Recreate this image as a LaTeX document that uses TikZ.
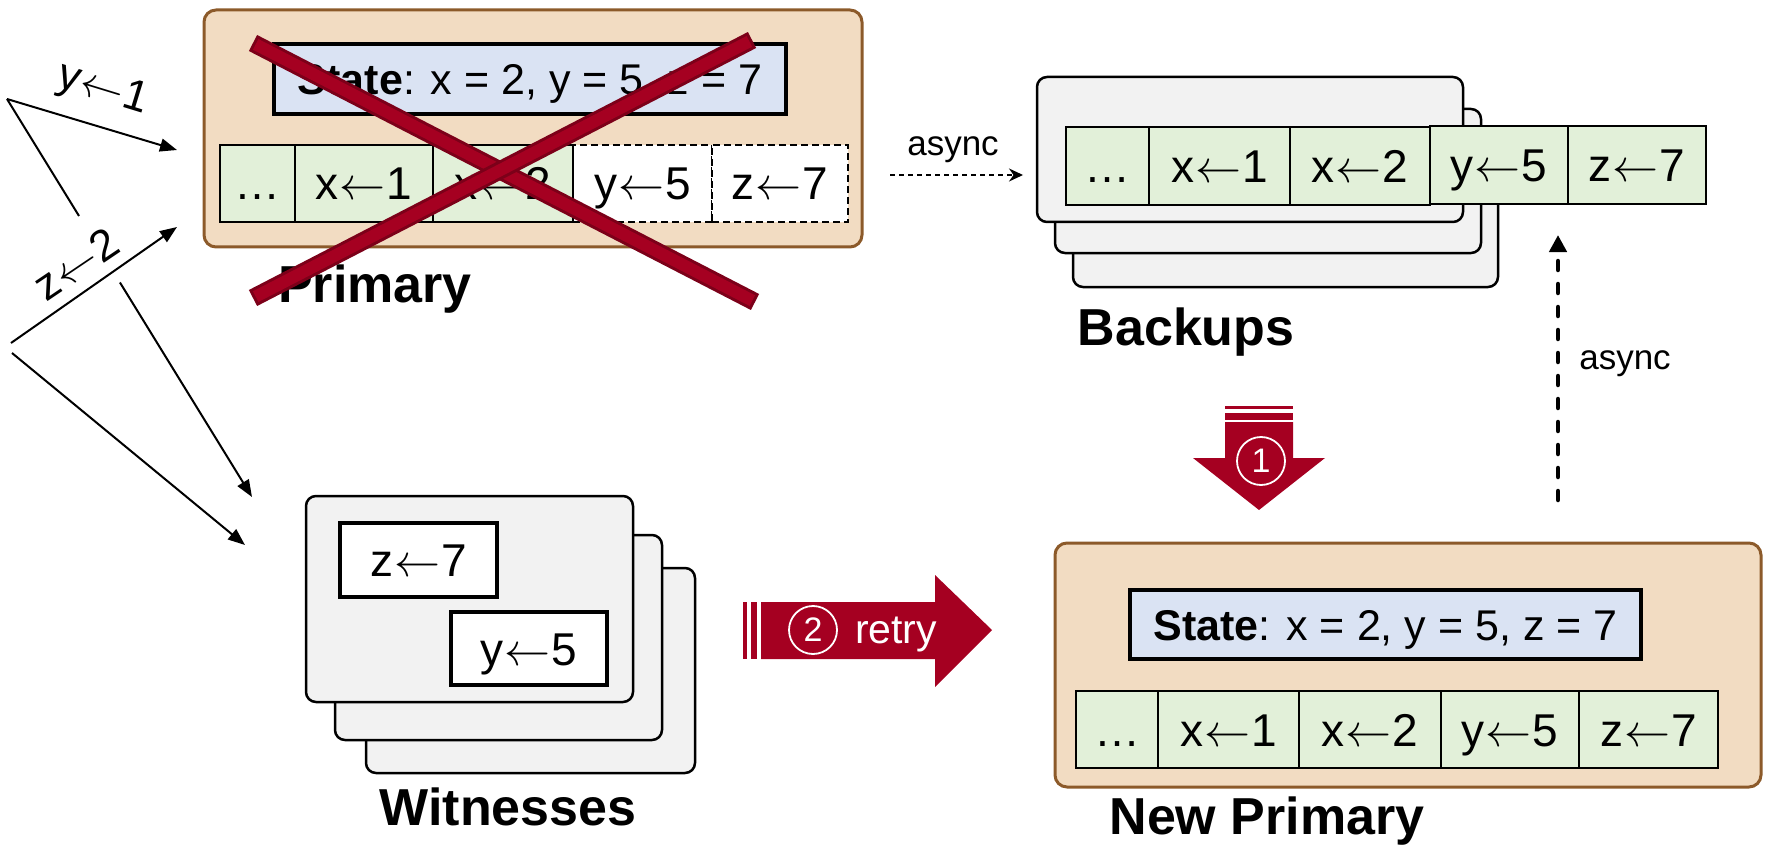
\RequirePackage{fix-cm}
\documentclass[tikz,border=0pt]{standalone}
\usepackage{fontspec}
\setmainfont{Liberation Sans}
\usetikzlibrary{arrows.meta,calc}
\definecolor{peach}{HTML}{F2DCC2}
\definecolor{brownb}{HTML}{8C5A2A}
\definecolor{stateblue}{HTML}{DAE3F3}
\definecolor{loggreen}{HTML}{E2F0D9}
\definecolor{cardgray}{HTML}{F2F2F2}
\definecolor{crimson}{HTML}{A50021}
\definecolor{crimsondark}{HTML}{7C0019}
\newcommand{\fsz}[1]{\fontsize{#1}{#1}\selectfont}
\newcommand{\bx}[7]{\node[#1,minimum width={#5-#3},minimum height={#6-#4}] (#2) at ({(#3+#5)/2},{(#4+#6)/2}) {#7};}
\newcommand{\la}{\kern0.02em$\leftarrow$\kern0.02em}
\newcommand{\statetxt}{\textbf{State}: x = 2, y = 5, z = 7}
\begin{document}
\begin{tikzpicture}[x=1pt,y=-1pt,
 server/.style={draw=brownb,line width=3pt,fill=peach,rounded corners=12pt,inner sep=0pt},
 statebox/.style={draw=black,line width=4pt,fill=stateblue,inner sep=0pt,font=\fsz{43},text height=31pt,text depth=0pt},
 cell/.style={draw=black,line width=2pt,fill=loggreen,inner sep=0pt,font=\fsz{46},text height=33pt,text depth=0pt},
 pendcell/.style={cell,fill=white,dash pattern=on 7pt off 4pt},
 card/.style={draw=black,line width=2.5pt,fill=cardgray,rounded corners=10pt,inner sep=0pt},
 wbox/.style={cell,fill=white,line width=4pt},
 biglabel/.style={font=\bfseries\fsz{52},anchor=base,inner sep=0pt},
 smalllabel/.style={font=\fsz{35},anchor=base,inner sep=0pt},
 reqlabel/.style={font=\fsz{44},inner sep=0pt},
 req/.style={line width=2pt,-{Triangle[length=17pt,width=13pt]}},
 asyncarrow/.style={line width=1.5pt,dash pattern=on 5pt off 4pt,-{Stealth[length=14pt,width=13pt]}},
 asyncthick/.style={line width=4.5pt,line cap=round,dash pattern=on 9pt off 14pt,-{Triangle[length=17pt,width=17pt]}},
 xout/.style={line width=18pt,crimsondark},
 xin/.style={line width=12pt,crimson,shorten <=3pt,shorten >=3pt},
 redfill/.style={fill=crimson,draw=none},
 numcircle/.style={circle,draw=white,line width=1.8pt,minimum size=48pt,inner sep=0pt,text=white,font=\fsz{34}},
]
\useasboundingbox (0,0) rectangle (1767,845);

% ---------------- Primary ----------------
\bx{server}{prim}{204}{10}{862}{247}{}
\bx{statebox}{pstate}{274}{44}{786}{114}{\statetxt}
\bx{pendcell}{p3}{573}{145}{712}{222}{y\la5}
\bx{pendcell}{p4}{712}{145}{848}{222}{z\la7}
\bx{cell}{p0}{220}{145}{295}{222}{…}
\bx{cell}{p1}{295}{145}{433}{222}{x\la1}
\bx{cell}{p2}{433}{145}{573}{222}{x\la2}
\node[biglabel] (primlabel) at (375,302) {Primary};
% red cross
\coordinate (xa1) at (253,43);
\coordinate (xa2) at (755,302);
\coordinate (xb1) at (752,40);
\coordinate (xb2) at (253,298);
\draw[xout] (xa1) -- (xa2);
\draw[xin] (xa1) -- (xa2);
\draw[xout] (xb1) -- (xb2);
\draw[xin] (xb1) -- (xb2);

% ---------------- Backups ----------------
\bx{card}{bk3}{1073}{140}{1498}{287}{}
\bx{card}{bk2}{1055}{109}{1481}{253}{}
\bx{card}{bk1}{1037}{77}{1463}{222}{}
\bx{cell}{b0}{1066}{127}{1149}{205}{…}
\bx{cell}{b1}{1149}{127}{1290}{205}{x\la1}
\bx{cell}{b2}{1290}{127}{1430}{205}{x\la2}
\bx{cell}{b3}{1430}{126}{1568}{204}{y\la5}
\bx{cell}{b4}{1568}{126}{1706}{204}{z\la7}
\node[biglabel] (bklabel) at (1186,345) {Backups};

% async primary -> backups
\coordinate (as1) at (890,175);
\coordinate (as2) at (1023,175);
\draw[asyncarrow] (as1) -- (as2);
\node[smalllabel] (asynclab1) at (953,156) {async};

% ---------------- Witnesses ----------------
\bx{card}{w3}{366}{568}{695}{773}{}
\bx{card}{w2}{335}{535}{662}{740}{}
\bx{card}{w1}{306}{496}{633}{702}{}
\bx{wbox}{wz}{340}{523}{497}{597}{z\la7}
\bx{wbox}{wy}{451}{612}{607}{685}{y\la5}
\node[biglabel] (wlabel) at (508,825) {Witnesses};

% ---------------- New Primary ----------------
\bx{server}{nprim}{1055}{543}{1761}{787}{}
\bx{statebox}{nstate}{1130}{590}{1641}{659}{\statetxt}
\bx{cell}{n0}{1076}{691}{1158}{768}{…}
\bx{cell}{n1}{1158}{691}{1299}{768}{x\la1}
\bx{cell}{n2}{1299}{691}{1441}{768}{x\la2}
\bx{cell}{n3}{1441}{691}{1579}{768}{y\la5}
\bx{cell}{n4}{1579}{691}{1718}{768}{z\la7}
\node[biglabel] (nlabel) at (1267,834) {New Primary};

% async new primary -> backups
\coordinate (vs1) at (1558,500);
\coordinate (vs2) at (1558,235);
\draw[asyncthick] (vs1) -- (vs2);
\node[smalllabel] (asynclab2) at (1625,369) {async};

% ---------------- Red arrow 1 (down) ----------------
\fill[redfill] (1225,406) rectangle (1293,409);
\fill[redfill] (1225,413) rectangle (1293,420);
\fill[redfill] (1225,422) -- (1293,422) -- (1293,458) -- (1325,458) -- (1259,510)
  -- (1193,458) -- (1225,458) -- cycle;
\node[numcircle] (one) at (1261,461) {1};

% ---------------- Red arrow 2 (retry) ----------------
\fill[redfill] (743,602) rectangle (747,659);
\fill[redfill] (751,602) rectangle (757,659);
\fill[redfill] (761,602) -- (935,602) -- (935,575) -- (992,630) -- (935,687)
  -- (935,659) -- (761,659) -- cycle;
\node[numcircle] (two) at (813,630) {2};
\node[font=\fsz{41},text=white,anchor=base,inner sep=0pt] (retry) at (896,643) {retry};

% ---------------- Client requests ----------------
\coordinate (ya) at (7,99);
\coordinate (yp) at (177,150);
\coordinate (yw) at (252,497);
\coordinate (za) at (11,343);
\coordinate (zp) at (177,227);
\coordinate (zb) at (12,353);
\coordinate (zw) at (245,545);
\draw[req] (ya) -- (yp);
\draw[line width=2pt] (ya) -- ($(ya)!0.294!(yw)$);
\draw[req] ($(ya)!0.461!(yw)$) -- (yw);
\draw[req] (za) -- (zp);
\draw[req] (zb) -- (zw);
\node[reqlabel,rotate=-17] (ylab) at (103,90) {y\la1};
\node[reqlabel,rotate=34] (zlab) at (76,264) {z\la2};
\end{tikzpicture}
\end{document}
